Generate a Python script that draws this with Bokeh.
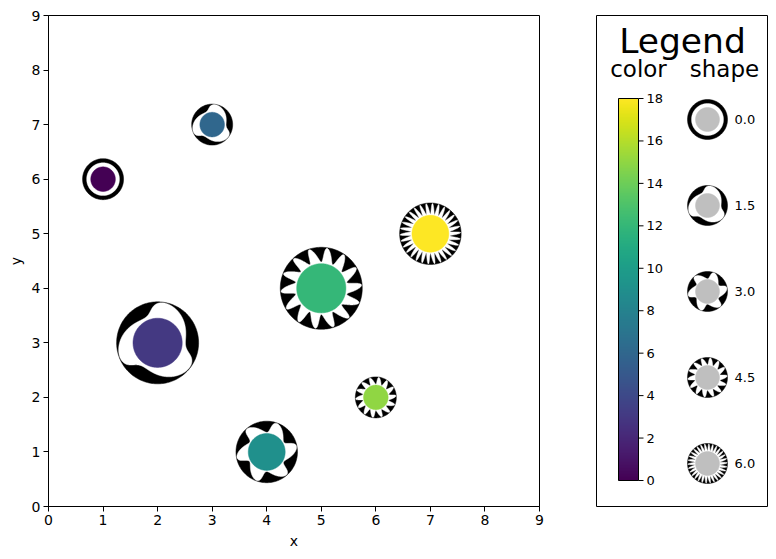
import numpy as np
from bokeh.plotting import figure
from bokeh.models import Range1d, FixedTicker, LinearColorMapper, ColumnDataSource
from bokeh.layouts import row
from bokeh.palettes import Viridis256
from bokeh.transform import linear_cmap
from bokeh.core.properties import value
from bokeh.embed import file_html
from bokeh.resources import INLINE

# ---------------- data ----------------
x = [1, 2, 3, 4, 5, 6, 7]
y = [6, 3, 7, 1, 4, 2, 5]
color = [0, 3, 6, 9, 12, 15, 18]
shape = [0.0, 1.5, 1.5, 3.0, 4.5, 4.5, 6.0]
size = [1.0, 2.0, 1.0, 1.5, 2.0, 1.0, 1.5]

legend_shapes = [0.0, 1.5, 3.0, 4.5, 6.0]
legend_labels = ["0.0", "1.5", "3.0", "4.5", "6.0"]
colorbar_ticks = [0, 2, 4, 6, 8, 10, 12, 14, 16, 18]
colorbar_labels = [str(t) for t in colorbar_ticks]
axis_ticks = [0, 1, 2, 3, 4, 5, 6, 7, 8, 9]
cmin, cmax = 0, 18

# ---------------- style constants ----------------
FONT = "DejaVu Sans"
FRAME = 491            # frame size in px (square)
PX = FRAME / 9.0       # px per data unit in main plot
BASE_R = 20.5          # outer radius (px) for size 1


def n_petals(s):
    return max(1, int(round(3 * 2 ** ((s - 1.5) / 1.35))))


def white_outline(cx, cy, R, s):
    u = np.linspace(0, 2 * np.pi, 1441)
    if s <= 0:
        r = np.full_like(u, 0.80)
        th = u
    else:
        n = n_petals(s)
        lo = 0.68 if n <= 3 else 0.64
        f = (1 + np.cos(n * (u - np.pi))) / 2
        r = lo + (0.985 - lo) * f
        th = u + 0.35 * np.pi / n * f
    return list(cx + R * r * np.cos(th)), list(cy + R * r * np.sin(th))


def circle_poly(cx, cy, r):
    u = np.linspace(0, 2 * np.pi, 181)
    return list(cx + r * np.cos(u)), list(cy + r * np.sin(u))


mapper = LinearColorMapper(palette=Viridis256, low=cmin, high=cmax)

# ---------------- main figure ----------------
p = figure(width=568, height=559, x_range=Range1d(0, 9), y_range=Range1d(0, 9),
           output_backend="svg", toolbar_location=None,
           min_border_left=48, min_border_right=29, min_border_top=15, min_border_bottom=53)
p.grid.visible = False
p.outline_line_color = "black"
p.outline_line_alpha = 1
p.background_fill_color = "white"
p.border_fill_color = "white"
for ax in (p.xaxis[0], p.yaxis[0]):
    ax.ticker = FixedTicker(ticks=axis_ticks)
    ax.minor_tick_line_color = None
    ax.major_tick_in = 0
    ax.major_tick_out = 5
    ax.major_tick_line_color = "black"
    ax.axis_line_color = "black"
    ax.major_label_text_font = FONT
    ax.major_label_text_font_size = "14px"
    ax.major_label_text_color = "black"
    ax.major_label_standoff = 3
    ax.axis_label_text_font = FONT
    ax.axis_label_text_font_size = "14px"
    ax.axis_label_text_font_style = "normal"
    ax.axis_label_text_color = "black"
    ax.axis_label_standoff = 5
p.xaxis.axis_label = "x"
p.yaxis.axis_label = "y"

outer_xs, outer_ys, white_xs, white_ys, inner_xs, inner_ys = [], [], [], [], [], []
for xi, yi, si, sh in zip(x, y, size, shape):
    R = BASE_R * si / PX
    ox, oy = circle_poly(xi, yi, R)
    outer_xs.append(ox); outer_ys.append(oy)
    wx, wy = white_outline(xi, yi, R, sh)
    white_xs.append(wx); white_ys.append(wy)
    ix, iy = circle_poly(xi, yi, R * 0.6)
    inner_xs.append(ix); inner_ys.append(iy)

p.patches(outer_xs, outer_ys, fill_color="black", line_color="black", line_width=0.5)
p.patches(white_xs, white_ys, fill_color="white", line_color="white", line_width=0.5)
src = ColumnDataSource(dict(xs=inner_xs, ys=inner_ys, c=color))
p.patches("xs", "ys", source=src, fill_color=linear_cmap("c", Viridis256, cmin, cmax),
          line_color=linear_cmap("c", Viridis256, cmin, cmax), line_width=0.5)

# ---------------- legend figure ----------------
W, H = 171, FRAME
q = figure(width=208, height=559, x_range=Range1d(0, W), y_range=Range1d(0, H),
           output_backend="svg", toolbar_location=None,
           x_axis_location=None, y_axis_location=None,
           min_border_left=28, min_border_right=9, min_border_top=15, min_border_bottom=53)
q.grid.visible = False
q.outline_line_color = "black"
q.outline_line_alpha = 1
q.background_fill_color = "white"
q.border_fill_color = "white"

q.text(x=[86], y=[466], text=["Legend"], text_font=value(FONT), text_font_size="34.5px",
       text_align="center", text_baseline="alphabetic", text_color="black")
q.text(x=[42, 128], y=[438, 438], text=["color", "shape"], text_font=value(FONT),
       text_font_size="23px", text_align="center", text_baseline="alphabetic", text_color="black")

# colorbar
cb_x0, cb_x1, cb_y0, cb_y1 = 22, 42, 26, 408
grad = np.linspace(cmin, cmax, 256).reshape(256, 1)
q.image(image=[grad], x=cb_x0, y=cb_y0, dw=cb_x1 - cb_x0, dh=cb_y1 - cb_y0, color_mapper=mapper)
q.quad(left=[cb_x0], right=[cb_x1], bottom=[cb_y0], top=[cb_y1], fill_color=None,
       line_color="black", line_width=1)
ty = [cb_y0 + (t - cmin) / (cmax - cmin) * (cb_y1 - cb_y0) for t in colorbar_ticks]
q.segment(x0=[cb_x1] * len(ty), x1=[cb_x1 + 5] * len(ty), y0=ty, y1=ty, line_color="black", line_width=1)
q.text(x=[cb_x1 + 8] * len(ty), y=ty, text=colorbar_labels, text_font=value(FONT),
       text_font_size="13px", text_align="left", text_baseline="middle", text_color="black")

# shape legend
lx = 111
ly = [387 - i * 86 for i in range(len(legend_shapes))]
LR = 20
lo_xs, lo_ys, lw_xs, lw_ys, li_xs, li_ys = [], [], [], [], [], []
for yy, sh in zip(ly, legend_shapes):
    a, b = circle_poly(lx, yy, LR); lo_xs.append(a); lo_ys.append(b)
    a, b = white_outline(lx, yy, LR, sh); lw_xs.append(a); lw_ys.append(b)
    a, b = circle_poly(lx, yy, LR * 0.6); li_xs.append(a); li_ys.append(b)
q.patches(lo_xs, lo_ys, fill_color="black", line_color="black", line_width=0.5)
q.patches(lw_xs, lw_ys, fill_color="white", line_color="white", line_width=0.5)
q.patches(li_xs, li_ys, fill_color="#bfbfbf", line_color="#bfbfbf", line_width=0.5)
q.text(x=[lx + 27] * len(ly), y=ly, text=legend_labels, text_font=value(FONT),
       text_font_size="13px", text_align="left", text_baseline="middle", text_color="black")

layout = row(p, q)
open("out.html", "w").write(file_html(layout, INLINE))
